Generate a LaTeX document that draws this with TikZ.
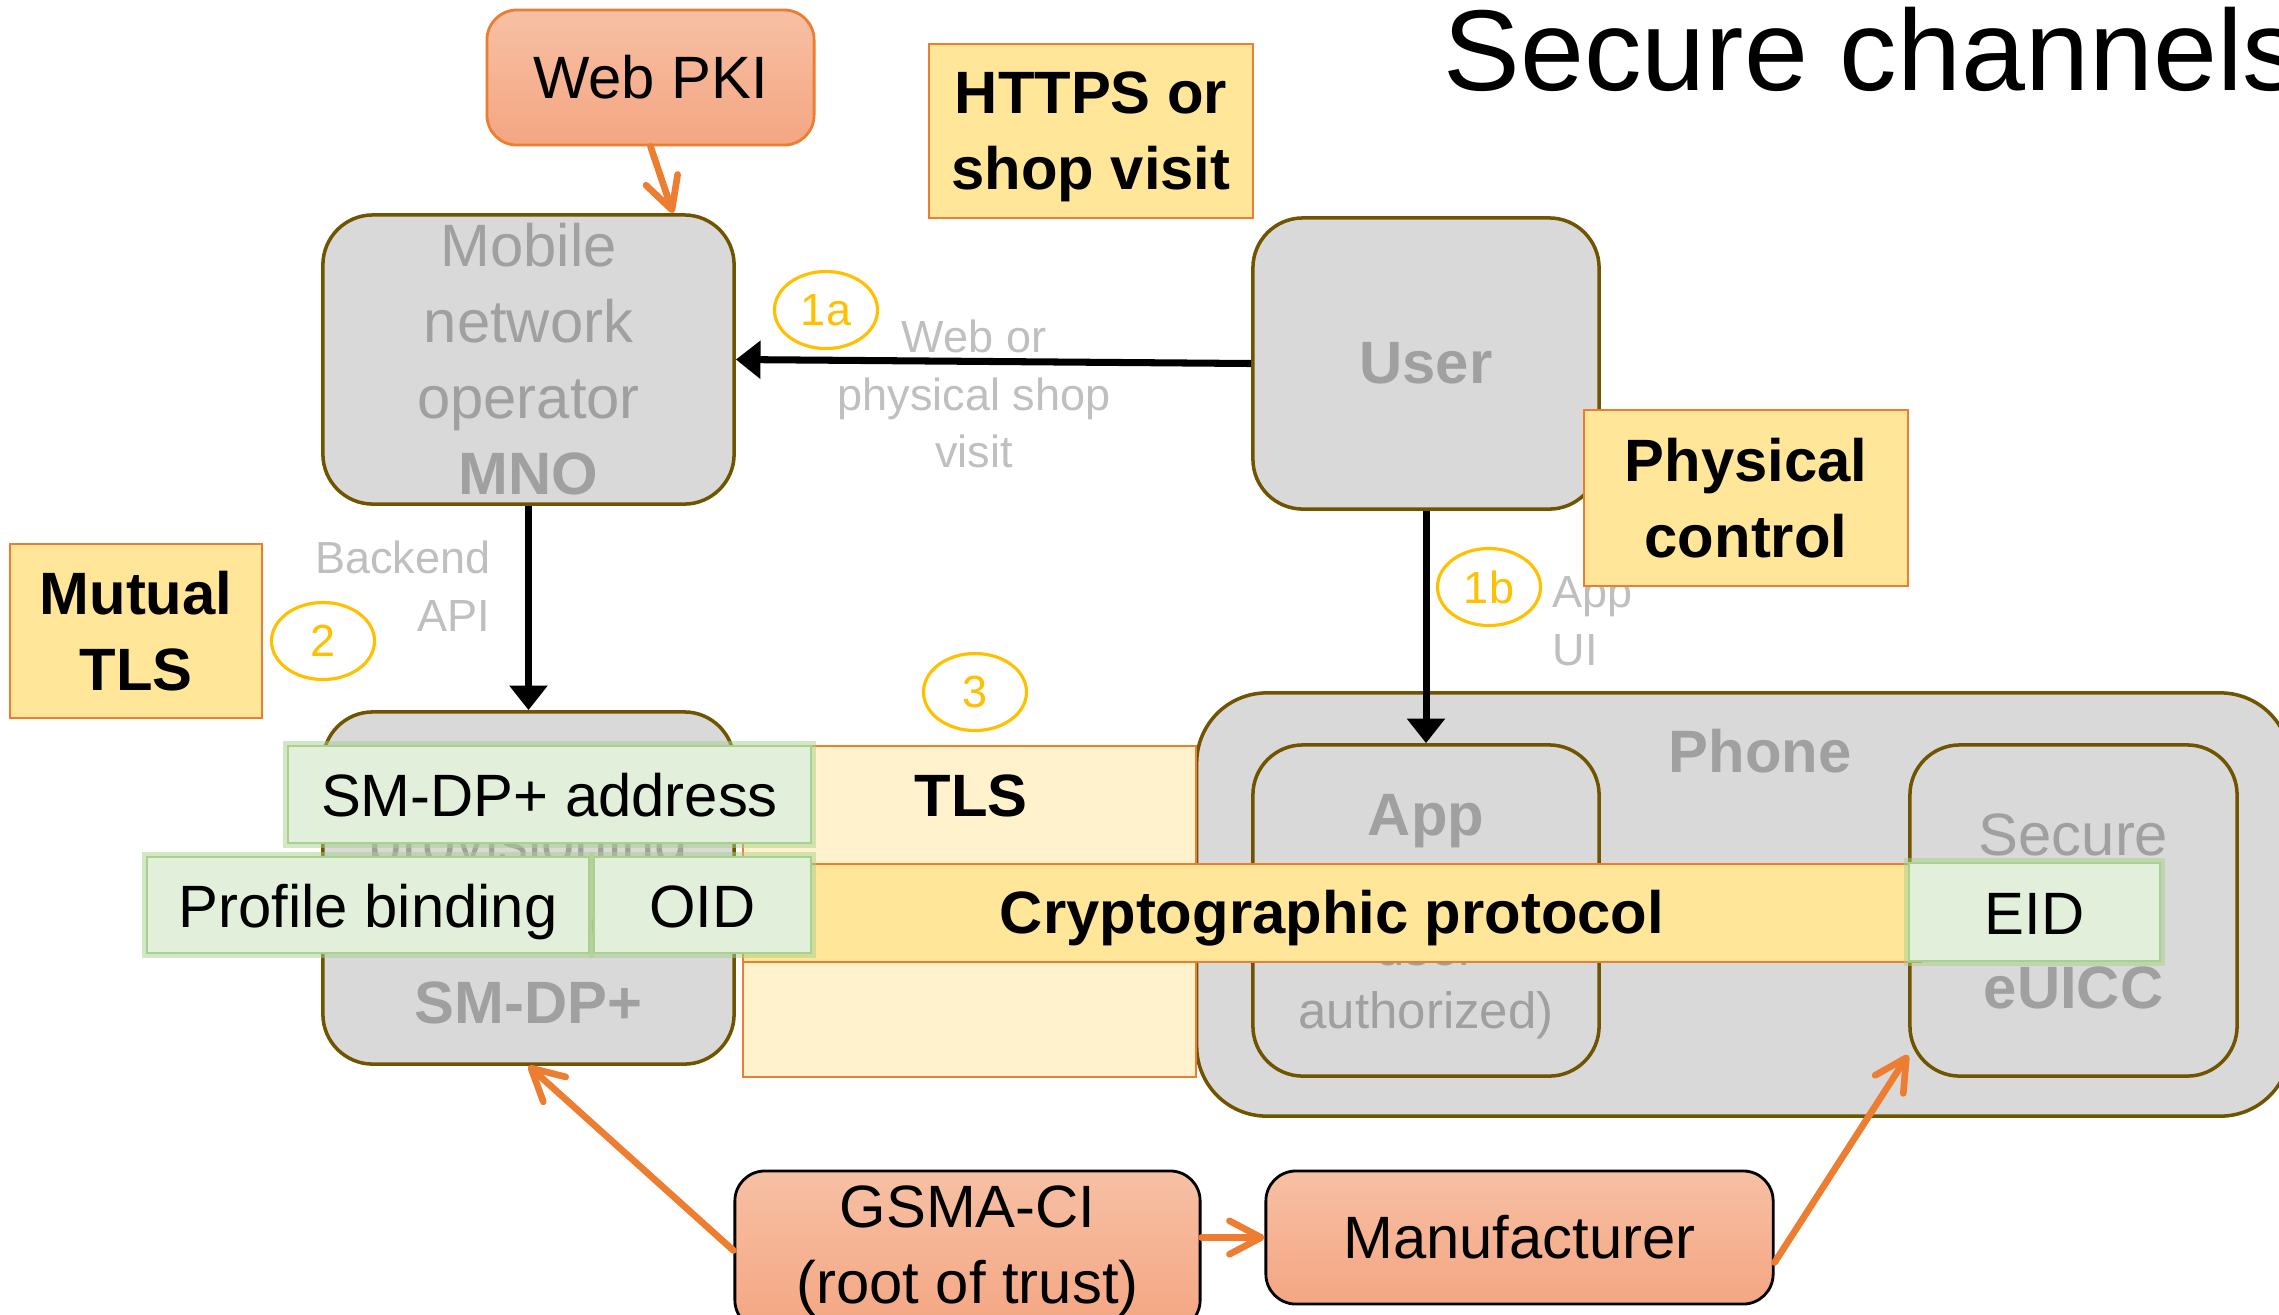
\documentclass[tikz,border=0pt]{standalone}
\usepackage{fontspec}
\setmainfont{Liberation Sans}
\usetikzlibrary{arrows.meta,shapes.geometric,calc}

\definecolor{boxgray}{RGB}{217,217,217}
\definecolor{boxedge}{RGB}{112,84,0}
\definecolor{namegray}{RGB}{160,160,160}
\definecolor{notegray}{RGB}{191,191,191}
\definecolor{stepyellow}{RGB}{255,192,0}
\definecolor{trustorange}{RGB}{237,125,49}
\definecolor{chanfill}{RGB}{255,230,153}
\definecolor{tlsfill}{RGB}{255,242,204}
\definecolor{idfill}{RGB}{226,239,218}
\definecolor{idglow}{RGB}{169,209,142}
\definecolor{rootTop}{RGB}{247,192,164}
\definecolor{rootBottom}{RGB}{244,166,130}

\newcommand\sizeMain{\fontsize{17}{21.6}\selectfont}
\newcommand\sizeNote{\fontsize{12.8}{16.4}\selectfont}
\newcommand\sizeSmall{\fontsize{14.5}{18}\selectfont}

\begin{document}
\begin{tikzpicture}[x=0.01cm, y=-0.01cm,
  entity/.style={draw=boxedge, line width=1pt, fill=boxgray, rounded corners=0.5cm, inner sep=0},
  caption/.style={text=namegray, font=\sizeMain, align=center, inner sep=0},
  channel/.style={draw=trustorange, line width=0.6pt, fill=chanfill, inner sep=0, font=\sizeMain\bfseries, align=center},
  identifier/.style={preaction={draw=idglow, line width=3pt, draw opacity=0.5}, fill=idfill, draw=idglow, line width=0.4pt, inner sep=0, font=\sizeMain, text height=12.6pt, text depth=0pt},
  authority/.style={draw=black, line width=0.8pt, top color=rootTop, bottom color=rootBottom, rounded corners=0.3cm, inner sep=0, font=\sizeMain, align=center},
  stepmark/.style={ellipse, draw=stepyellow, line width=0.9pt, text=stepyellow, minimum width=1.03cm, minimum height=0.77cm, inner sep=0, font=\sizeNote},
  remark/.style={text=notegray, font=\sizeNote, inner sep=0},
  flow/.style={draw=black, line width=2pt, -{Triangle[length=7pt,width=10.5pt]}},
  trust/.style={draw=trustorange, line width=1.9pt, line cap=round, -{Straight Barb[length=9pt,width=9.5pt,round]}}
]
\useasboundingbox (0,0) rectangle (2279,1314);
\clip (0,0) rectangle (2279,1314);
\fill[white] (0,0) rectangle (2279,1314);

% title
\node[anchor=base west, inner sep=0, font=\fontsize{32.7}{39}\selectfont] (title) at (1443,90) {Secure channels};

% trust anchors and channel notes at the top
\node[authority, draw=trustorange, minimum width=3.27cm, minimum height=1.35cm] (webpki) at (650.5,77.5) {Web PKI};
\node[channel, minimum width=3.24cm, minimum height=1.74cm] (https) at (1091,131) {};
\node[inner sep=0, font=\sizeMain\bfseries, align=center] (httpsname) at (1091,137) {HTTPS or\\shop visit};

% parties
\node[entity, minimum width=4.11cm, minimum height=2.89cm] (mno) at (528.5,359.5) {};
\node[caption] (mnoname) at (mno.center) {Mobile\\network\\operator\\\textbf{MNO}};

\node[entity, minimum width=3.46cm, minimum height=2.91cm] (user) at (1426,363.5) {};
\node[caption, font=\sizeMain\bfseries] (username) at (user.center) {User};

\node[entity, minimum width=4.11cm, minimum height=3.52cm] (smdp) at (528.5,888) {};
\node[caption, anchor=base] (smdpline1) at (528.5,862) {provisioning};
\node[caption, anchor=base] (smdpline2) at (528.5,942) {service};
\node[caption, anchor=base, font=\sizeMain\bfseries] (smdpname) at (528.5,1023) {SM-DP+};

\node[entity, rounded corners=0.7cm, minimum width=10.93cm, minimum height=4.23cm] (phone) at (1743.5,904.5) {};
\node[caption, font=\sizeMain\bfseries] (phonename) at (1760,751) {Phone};

\node[entity, minimum width=3.46cm, minimum height=3.31cm] (app) at (1426,910.5) {};
\node[caption, anchor=base, font=\sizeMain\bfseries] (appname) at (1426,835) {App};
\node[caption, anchor=base, font=\sizeSmall] (appline2) at (1426,965) {user};
\node[caption, anchor=base, font=\sizeSmall] (appline3) at (1426,1028) {authorized)};

\node[entity, minimum width=3.27cm, minimum height=3.31cm] (euicc) at (2073.5,910.5) {};
\node[caption, anchor=base] (euiccline1) at (2073.5,855) {Secure};
\node[caption, anchor=base, font=\sizeMain\bfseries] (euiccname) at (2073.5,1008) {eUICC};

% notes on the flows
\node[remark, align=center] (webnote) at (974,394) {Web or\\physical shop\\visit};
\node[remark, align=right, anchor=east] (backendnote) at (491,586) {Backend\\API};
\node[remark, align=left, anchor=west] (appuinote) at (1552,621) {App\\UI};

% step markers
\node[stepmark] (step1a) at (826,310) {1a};
\node[stepmark] (step2) at (323,641) {2};
\node[stepmark] (step3) at (975,692) {3};
\node[stepmark] (step1b) at (1489,587) {1b};

% flows between parties
\draw[flow] (user.west) -- (mno.east);
\draw[flow] (mno.south) -- (smdp.north);
\draw[flow] (user.south) -- (app.north);

% channel protection
\node[channel, fill=chanfill, minimum width=3.24cm, minimum height=1.76cm] (physical) at (1746,498) {Physical\\control};
\node[channel, minimum width=2.52cm, minimum height=1.74cm] (mutual) at (136,631) {Mutual\\TLS};
\node[channel, fill=tlsfill, minimum width=4.53cm, minimum height=3.31cm] (tls) at (969.5,911.5) {};
\node[inner sep=0, font=\sizeMain\bfseries] (tlsname) at (971,796) {TLS};
\node[channel, minimum width=11.78cm, minimum height=0.98cm, text height=11.6pt, text depth=0pt] (crypto) at (1332,913) {Cryptographic protocol};

% identifiers
\node[identifier, minimum width=5.23cm, minimum height=0.97cm] (smdpaddr) at (549.5,794.5) {SM-DP+ address};
\node[identifier, minimum width=4.42cm, minimum height=0.96cm] (binding) at (368,905) {Profile binding};
\node[identifier, minimum width=2.17cm, minimum height=0.96cm] (oid) at (702.5,905) {OID};
\node[identifier, minimum width=2.51cm, minimum height=0.98cm] (eid) at (2034.5,912) {EID};

% roots of trust
\node[authority, minimum width=4.65cm, minimum height=1.59cm] (gsma) at (967.5,1250.5) {GSMA-CI\\(root of trust)};
\node[authority, minimum width=5.07cm, minimum height=1.33cm] (manu) at (1519.5,1237.5) {Manufacturer};

\coordinate (mnoPki) at (673,213);
\draw[trust] (webpki.south) -- (mnoPki);
\draw[trust] (gsma.west) -- (smdp.south);
\draw[trust] (gsma.east |- manu.west) -- (manu.west);
\draw[trust] ($(manu.east)+(0,25)$) -- ($(euicc.south west)+(0,-23)$);
\end{tikzpicture}
\end{document}
